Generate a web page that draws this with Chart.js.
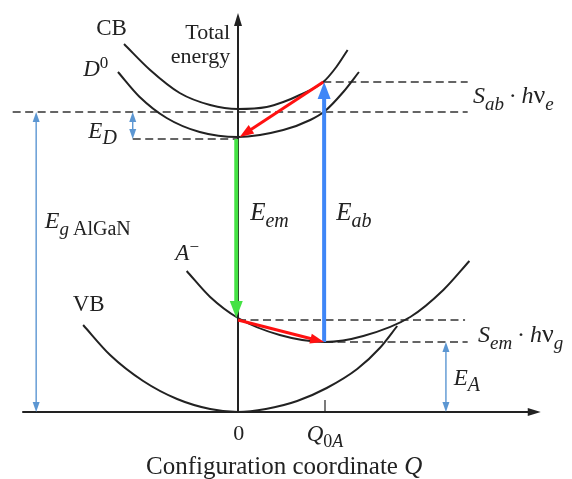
<!DOCTYPE html>
<html lang="en">
<head>
<meta charset="UTF-8">
<title>Configuration coordinate diagram</title>
<script src="https://cdn.jsdelivr.net/npm/chart.js"></script>
<style>
  body { margin: 0; background: #fff; }
  #wrap { width: 572px; height: 479px; }
</style>
</head>
<body>
<div id="wrap"><canvas id="ccd" width="572" height="479"></canvas></div>
<script>
// Q in units of Q0A, total energy in arbitrary units (VB minimum = 0)
const vbQ = [-1.78, -1.47, -1.09, -0.70, -0.32, 0, 0.32, 0.68, 1.02, 1.37, 1.63, 1.83];
const vbE = [0.87, 0.57, 0.31, 0.13, 0.03, 0, 0.03, 0.11, 0.24, 0.43, 0.64, 0.86];

const accQ = [-0.59, -0.32, 0, 0.48, 1.0, 1.44, 1.98, 2.36, 2.66];
const accE = [1.41, 1.15, 0.94, 0.77, 0.70, 0.76, 0.95, 1.22, 1.51];

const donQ = [-1.38, -1.13, -0.82, -0.44, 0, 0.52, 0.83, 1.0, 1.21, 1.39];
const donE = [3.40, 3.15, 2.94, 2.80, 2.75, 2.82, 2.92, 3.01, 3.20, 3.40];

const cbQ = [-1.31, -1.01, -0.67, -0.32, 0, 0.33, 0.52, 0.71, 0.98, 1.13, 1.26];
const cbE = [3.68, 3.42, 3.19, 3.07, 3.03, 3.05, 3.10, 3.17, 3.30, 3.45, 3.62];

// dashed energy levels: [Q from, Q to, E]
const levels = [
  [-2.59, 2.64, 3.00],
  [0.98, 2.64, 3.30],
  [-1.21, 0, 2.73],
  [0, 2.61, 0.92],
  [1.0, 2.64, 0.70]
];

// transitions and energy spans: [[Q, E] start, [Q, E] end]
const emission = [[-0.02, 2.73], [-0.02, 0.94]];
const absorption = [[0.99, 0.70], [0.99, 3.30]];
const relaxUpper = [[0.98, 3.30], [0.02, 2.75]];
const relaxLower = [[0.0, 0.92], [0.99, 0.70]];
const gapSpan = [[-2.32, 3.00], [-2.32, 0]];
const donorSpan = [[-1.21, 3.00], [-1.21, 2.73]];
const acceptorSpan = [[2.39, 0.70], [2.39, 0]];

const xTicks = [0, 1];
const xAxisRange = [-2.48, 3.48];
const yAxisTop = 3.99;

const toPts = (qs, es) => qs.map((q, i) => ({ x: q, y: es[i] }));

const SERIF = '"Liberation Serif", "DejaVu Serif", serif';
const INK = '#222';

// rich text segments: [text, italic, kind, scale]; kind 0 normal, 1 sub, 2 sup
const labels = [
  { at: [-1.63, 3.77], size: 23, seg: [['CB', 0, 0]] },
  { at: [-0.09, 3.73], size: 22, align: 'right', seg: [['Total', 0, 0]] },
  { at: [-0.09, 3.49], size: 22, align: 'right', seg: [['energy', 0, 0]] },
  { at: [-1.78, 3.36], size: 23, seg: [['D', 1, 0], ['0', 0, 2]] },
  { at: [-1.72, 2.74], size: 23, seg: [['E', 1, 0], ['D', 1, 1, 0.85]] },
  { at: [-2.22, 1.84], size: 24, seg: [['E', 1, 0], ['g', 1, 1, 0.8], ['\u2009AlGaN', 0, 1, 0.85]] },
  { at: [-0.72, 1.52], size: 23, seg: [['A', 1, 0], ['\u2212', 0, 2]] },
  { at: [-1.90, 1.01], size: 23, seg: [['VB', 0, 0]] },
  { at: [0.14, 1.92], size: 25, seg: [['E', 1, 0], ['em', 1, 1, 0.8]] },
  { at: [1.13, 1.92], size: 25, seg: [['E', 1, 0], ['ab', 1, 1, 0.8]] },
  { at: [2.70, 3.09], size: 24, seg: [['S', 1, 0], ['ab', 1, 1, 0.8], ['\u2009\u00b7\u2009', 0, 0], ['h', 1, 0], ['\u03bd', 0, 0, 1.1], ['e', 1, 1, 0.8]] },
  { at: [2.76, 0.70], size: 24, seg: [['S', 1, 0], ['em', 1, 1, 0.8], ['\u2009\u00b7\u2009', 0, 0], ['h', 1, 0], ['\u03bd', 0, 0, 1.1], ['g', 1, 1, 0.8]] },
  { at: [2.48, 0.27], size: 23, seg: [['E', 1, 0], ['A', 1, 1, 0.85]] },
  { at: [0.01, -0.28], size: 22, align: 'center', seg: [['0', 0, 0]] },
  { at: [0.79, -0.29], size: 23, seg: [['Q', 1, 0], ['0', 0, 1, 0.8], ['A', 1, 1, 0.8]] },
  { at: [0.53, -0.62], size: 25, align: 'center', seg: [['Configuration coordinate ', 0, 0], ['Q', 1, 0]] }
];

function arrowHead(ctx, x1, y1, x2, y2, len, wid, color) {
  const a = Math.atan2(y2 - y1, x2 - x1);
  ctx.save();
  ctx.translate(x2, y2);
  ctx.rotate(a);
  ctx.fillStyle = color;
  ctx.beginPath();
  ctx.moveTo(0, 0);
  ctx.lineTo(-len, wid / 2);
  ctx.lineTo(-len, -wid / 2);
  ctx.closePath();
  ctx.fill();
  ctx.restore();
}

function arrow(ctx, p1, p2, opt) {
  const dx = p2[0] - p1[0], dy = p2[1] - p1[1];
  const d = Math.hypot(dx, dy);
  const back = opt.len * 0.8;
  const s = opt.both ? back / d : 0;
  ctx.save();
  ctx.strokeStyle = opt.color;
  ctx.lineWidth = opt.width;
  ctx.beginPath();
  ctx.moveTo(p1[0] + dx * s, p1[1] + dy * s);
  ctx.lineTo(p2[0] - dx * back / d, p2[1] - dy * back / d);
  ctx.stroke();
  ctx.restore();
  arrowHead(ctx, p1[0], p1[1], p2[0], p2[1], opt.len, opt.wid, opt.color);
  if (opt.both) arrowHead(ctx, p2[0], p2[1], p1[0], p1[1], opt.len, opt.wid, opt.color);
}

function richText(ctx, x, y, size, seg, align) {
  const fontOf = (it, k, sc) => (it ? 'italic ' : '') +
    Math.round(size * (sc || (k ? 0.72 : 1))) + 'px ' + SERIF;
  let total = 0;
  seg.forEach(([t, it, k, sc]) => { ctx.font = fontOf(it, k, sc); total += ctx.measureText(t).width; });
  let cx = align === 'right' ? x - total : align === 'center' ? x - total / 2 : x;
  seg.forEach(([t, it, k, sc]) => {
    ctx.font = fontOf(it, k, sc);
    const dy = k === 1 ? size * 0.28 : k === 2 ? -size * 0.36 : 0;
    ctx.fillText(t, cx, y + dy);
    cx += ctx.measureText(t).width;
  });
}

const diagram = {
  id: 'diagram',
  beforeDatasetsDraw(chart) {
    const { ctx, scales: { x, y } } = chart;
    const P = ([q, e]) => [x.getPixelForValue(q), y.getPixelForValue(e)];
    ctx.save();
    // dashed levels
    ctx.strokeStyle = '#333';
    ctx.lineWidth = 1.3;
    ctx.setLineDash([8, 4.5]);
    levels.forEach(([q1, q2, e]) => {
      ctx.beginPath();
      ctx.moveTo(x.getPixelForValue(q1), y.getPixelForValue(e));
      ctx.lineTo(x.getPixelForValue(q2), y.getPixelForValue(e));
      ctx.stroke();
    });
    ctx.setLineDash([]);
    // axes
    const axis = { color: INK, width: 2, len: 13, wid: 8 };
    arrow(ctx, P([xAxisRange[0], 0]), P([xAxisRange[1], 0]), axis);
    arrow(ctx, P([0, 0]), P([0, yAxisTop]), axis);
    ctx.strokeStyle = INK;
    ctx.lineWidth = 1.2;
    xTicks.slice(1).forEach(q => {
      ctx.beginPath();
      ctx.moveTo(x.getPixelForValue(q), y.getPixelForValue(0));
      ctx.lineTo(x.getPixelForValue(q), y.getPixelForValue(0.12));
      ctx.stroke();
    });
    ctx.restore();
  },
  afterDatasetsDraw(chart) {
    const { ctx, scales: { x, y } } = chart;
    const P = ([q, e]) => [x.getPixelForValue(q), y.getPixelForValue(e)];
    ctx.save();
    const thin = { color: '#5b96d2', width: 1.4, len: 10, wid: 7, both: true };
    [gapSpan, donorSpan, acceptorSpan].forEach(s => arrow(ctx, P(s[0]), P(s[1]), thin));
    arrow(ctx, P(emission[0]), P(emission[1]), { color: '#44e244', width: 4, len: 17, wid: 13 });
    arrow(ctx, P(absorption[0]), P(absorption[1]), { color: '#3f86f7', width: 4, len: 17, wid: 13 });
    const red = { color: '#ff1111', width: 3, len: 14, wid: 10 };
    arrow(ctx, P(relaxUpper[0]), P(relaxUpper[1]), red);
    arrow(ctx, P(relaxLower[0]), P(relaxLower[1]), red);
    ctx.fillStyle = INK;
    ctx.textBaseline = 'alphabetic';
    labels.forEach(l => {
      const [px, py] = P(l.at);
      richText(ctx, px, py, l.size, l.seg, l.align);
    });
    ctx.restore();
  }
};

const curve = (qs, es) => ({
  data: toPts(qs, es),
  showLine: true,
  borderColor: INK,
  borderWidth: 2,
  pointRadius: 0,
  cubicInterpolationMode: 'monotone'
});

new Chart(document.getElementById('ccd'), {
  type: 'scatter',
  data: {
    datasets: [curve(vbQ, vbE), curve(accQ, accE), curve(donQ, donE), curve(cbQ, cbE)]
  },
  options: {
    responsive: false,
    animation: false,
    events: [],
    layout: { padding: 0 },
    plugins: { legend: { display: false }, tooltip: { enabled: false } },
    scales: {
      x: { type: 'linear', display: false, min: -238 / 87, max: 334 / 87 },
      y: { type: 'linear', display: false, min: -0.67, max: 4.12 }
    }
  },
  plugins: [diagram]
});
</script>
</body>
</html>
